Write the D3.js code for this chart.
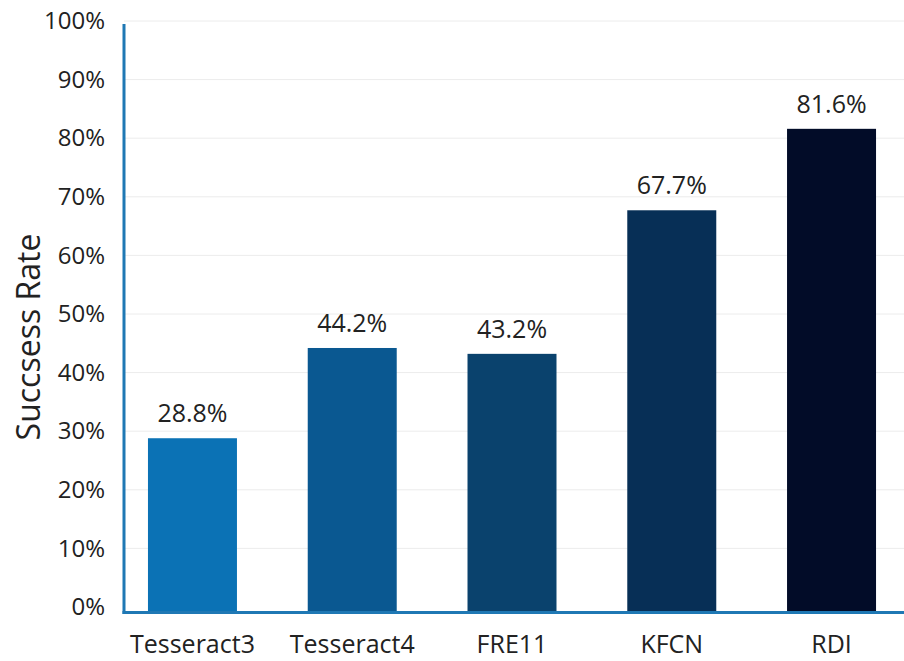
<!DOCTYPE html>
<html><head><meta charset="utf-8">
<script src="https://cdn.jsdelivr.net/npm/d3@7"></script>
<style>
html,body{margin:0;padding:0;background:#fff;}
svg{display:block;font-family:"Open Sans","Noto Sans",sans-serif;}
</style></head>
<body><svg id="c" width="904" height="661"></svg>
<script>
const categories = ["Tesseract3","Tesseract4","FRE11","KFCN","RDI"];
const values = [28.8, 44.2, 43.2, 67.7, 81.6];
const barColors = ["#0b72b5","#0a5891","#0a426d","#072f56","#020c28"];
const yTicks = [0,10,20,30,40,50,60,70,80,90,100];
const yTitle = "Succsess Rate";

(function(){
const svg = d3.select("#c");
const mLeft = 124, mTop = 21, mZero = 607, axisY = 612.5, mRight = 900;
const fam = "'Open Sans','Noto Sans',sans-serif";
const x = d3.scaleBand().domain(categories).range([mLeft, mRight]).paddingInner(0.443).paddingOuter(0.15);
const y = d3.scaleLinear().domain([0,100]).range([mZero, mTop]);

// grid
svg.append("g").selectAll("line").data(yTicks.filter(d=>d>0)).join("line")
  .attr("x1", mLeft).attr("x2", 904)
  .attr("y1", d=>y(d)).attr("y2", d=>y(d))
  .attr("stroke", "#ececec").attr("stroke-width", 1);

// bars
svg.append("g").selectAll("rect").data(values).join("rect")
  .attr("x", (d,i)=>x(categories[i]))
  .attr("width", x.bandwidth())
  .attr("y", d=>y(d))
  .attr("height", d=>axisY-y(d))
  .attr("fill", (d,i)=>barColors[i]);

// value labels
svg.append("g").selectAll("text").data(values).join("text")
  .attr("x", (d,i)=>x(categories[i]) + x.bandwidth()/2)
  .attr("y", d=>y(d) - 16)
  .attr("text-anchor","middle")
  .attr("font-size", 25)
  .attr("font-family", fam)
  .attr("fill", "#222")
  .text(d=>d.toFixed(1)+"%");

// y axis
const yAxis = d3.axisLeft(y).tickValues(yTicks).tickFormat(d=>d+"%").tickSize(0).tickPadding(19);
const ya = svg.append("g").attr("transform", `translate(${mLeft},0)`).call(yAxis);
ya.select(".domain").remove();
ya.selectAll("text").attr("font-size", 24).attr("fill","#222").attr("font-family", fam);

// x axis
const xAxis = d3.axisBottom(x).tickSize(0).tickPadding(23);
const xa = svg.append("g").attr("transform", `translate(0,${axisY})`).call(xAxis);
xa.select(".domain").remove();
xa.selectAll("text").attr("font-size", 25).attr("fill","#222").attr("font-family", fam);

// axis lines
svg.append("line").attr("x1", mLeft).attr("x2", mLeft).attr("y1", 24).attr("y2", axisY+1.5)
  .attr("stroke", "#1f78b4").attr("stroke-width", 3);
svg.append("line").attr("x1", mLeft-1.5).attr("x2", 904).attr("y1", axisY).attr("y2", axisY)
  .attr("stroke", "#1f78b4").attr("stroke-width", 3);

// y title
svg.append("text")
  .attr("transform", `translate(40,337) rotate(-90)`)
  .attr("text-anchor","middle")
  .attr("font-size", 32)
  .attr("font-family", fam)
  .attr("fill","#222")
  .text(yTitle);
})();
</script></body></html>
